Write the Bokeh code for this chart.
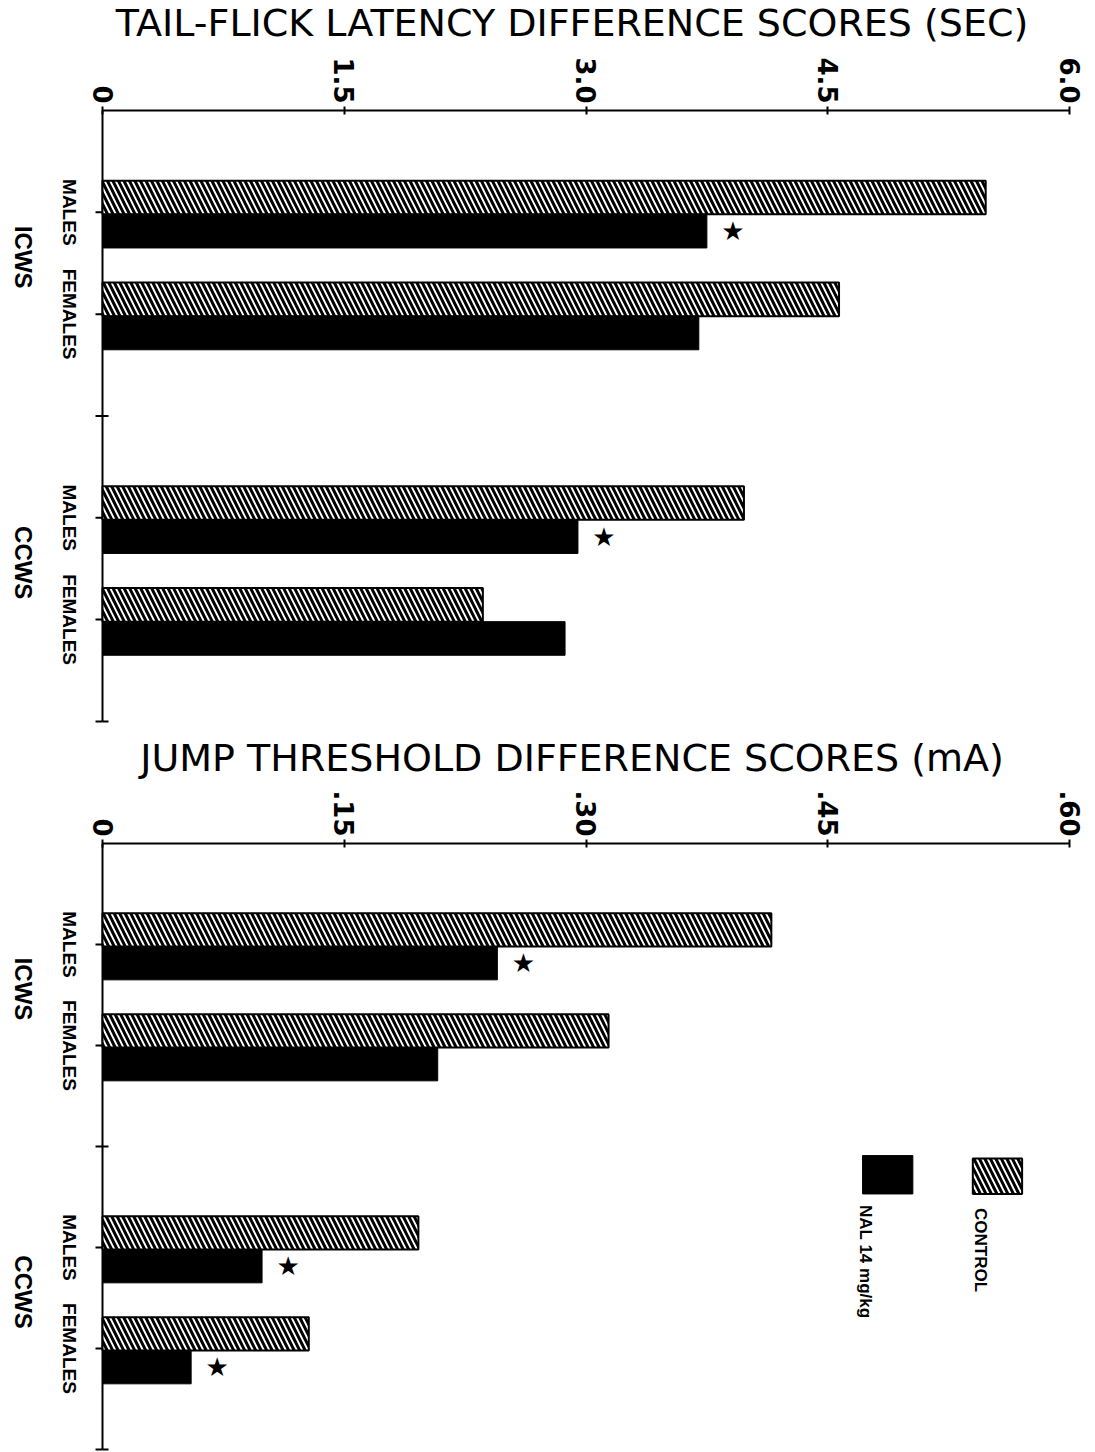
import math

from bokeh.core.properties import value
from bokeh.embed import file_html
from bokeh.layouts import column
from bokeh.models import ColumnDataSource, FixedTicker, Range1d
from bokeh.plotting import figure
from bokeh.resources import INLINE

# ---- data -------------------------------------------------------------
groups = ["ICWS", "ICWS", "CCWS", "CCWS"]
sexes = ["MALES", "FEMALES", "MALES", "FEMALES"]
group_names = ["ICWS", "CCWS"]

tail_flick_control = [5.48, 4.57, 3.98, 2.36]
tail_flick_nal = [3.75, 3.70, 2.95, 2.87]
tail_flick_sig = [True, False, True, False]
tail_flick_ticks = [0, 1.5, 3.0, 4.5, 6.0]
tail_flick_tick_labels = ["0", "1.5", "3.0", "4.5", "6.0"]

jump_control = [0.415, 0.314, 0.196, 0.128]
jump_nal = [0.245, 0.208, 0.099, 0.055]
jump_sig = [True, False, True, True]
jump_ticks = [0, 0.15, 0.30, 0.45, 0.60]
jump_tick_labels = ["0", ".15", ".30", ".45", ".60"]

legend_labels = ["CONTROL", "NAL 14 mg/kg"]

# ---- style --------------------------------------------------------------
TITLE_FONT = "DejaVu Sans"
TICK_FONT = "DejaVu Sans"
CAT_FONT = "Liberation Sans"
ROT = -math.pi / 2          # text reads top-to-bottom
BAR_H = 0.33
SLOTS_PER_GROUP = 3         # two bars + one empty slot between groups
WIDTH = 1095
AXIS_X = 102                # pixel column of the category axis
RIGHT_PAD = 26
SLOT_PAD = 0.03
HATCH = dict(fill_color="white", hatch_pattern="left_diagonal_line",
             hatch_color="black", hatch_scale=11, hatch_weight=3.0,
             line_color="black", line_width=2)


def header(text, height, mid):
    """A strip holding a panel heading, laid out in pixel coordinates."""
    h = figure(width=WIDTH, height=height,
               x_range=Range1d(0, WIDTH), y_range=Range1d(height, 0),
               x_axis_location=None, y_axis_location=None,
               output_backend="svg", toolbar_location=None,
               min_border=0, outline_line_color=None,
               background_fill_color="white")
    h.title = None
    h.grid.visible = False
    centre = AXIS_X + (WIDTH - AXIS_X - RIGHT_PAD) / 2
    h.text(x=[centre], y=[mid], text=[text],
           text_align="center", text_baseline="middle",
           text_font=value(TITLE_FONT), text_font_size="38px",
           text_color="black")
    return h


def slot_positions():
    """Category-axis position of each group/sex pair (1, 2, 4, 5)."""
    pos = []
    for g, s in zip(groups, sexes):
        gi = group_names.index(g)
        si = 0 if s == "MALES" else 1
        pos.append(gi * SLOTS_PER_GROUP + si + 1)
    return pos


def make_panel(control, nal, sig, ticks, tick_labels, slot_px,
               border_top, legend=False):
    pos = slot_positions()
    n_slots = len(group_names) * SLOTS_PER_GROUP
    height = border_top + round((n_slots + SLOT_PAD) * slot_px)

    # the frame starts at the page edge so the category labels, which sit
    # left of the value origin, are drawn inside it
    span = ticks[-1] - ticks[0]
    data_w = WIDTH - AXIS_X - RIGHT_PAD
    x_start = ticks[0] - AXIS_X / data_w * span

    p = figure(width=WIDTH, height=height,
               x_range=Range1d(x_start, ticks[-1]),
               y_range=Range1d(n_slots + SLOT_PAD, 0),
               x_axis_location="above", y_axis_location=None,
               output_backend="svg", toolbar_location=None,
               min_border_left=0, min_border_right=RIGHT_PAD,
               min_border_top=border_top, min_border_bottom=0,
               outline_line_color=None, background_fill_color="white")
    p.title = None
    p.grid.visible = False

    # value axis along the top
    xa = p.xaxis[0]
    xa.bounds = (ticks[0], ticks[-1])
    xa.ticker = FixedTicker(ticks=ticks, minor_ticks=[])
    xa.major_label_overrides = {t: lbl for t, lbl in zip(ticks, tick_labels)}
    xa.major_label_orientation = ROT
    xa.major_label_text_font = TICK_FONT
    xa.major_label_text_font_size = "26px"
    xa.major_label_text_font_style = "bold"
    xa.major_label_text_color = "black"
    xa.major_label_standoff = 3
    xa.axis_line_width = 2
    xa.axis_line_color = "black"
    xa.major_tick_line_width = 2
    xa.major_tick_line_color = "black"
    xa.major_tick_in = 4
    xa.major_tick_out = 4

    # category axis: line, outward ticks, inward ticks at group separators
    all_slots = list(range(1, n_slots + 1))
    sep_slots = [k for k in all_slots if k not in pos]
    p.segment(x0=[0], y0=[0], x1=[0], y1=[n_slots], line_color="black", line_width=2)
    p.ray(x=[0] * len(all_slots), y=all_slots, length=7, length_units="screen",
          angle=math.pi, line_color="black", line_width=2)
    p.ray(x=[0] * len(sep_slots), y=sep_slots, length=6, length_units="screen",
          angle=0, line_color="black", line_width=2)

    p.text(x=[0] * len(pos), y=pos, text=sexes, x_offset=-23, angle=ROT,
           text_align="center", text_baseline="top",
           text_font=value(CAT_FONT), text_font_size="19px",
           text_font_style="bold", text_color="black")

    group_pos = []
    for g in group_names:
        ks = [k for k, gg in zip(pos, groups) if gg == g]
        group_pos.append(sum(ks) / len(ks))
    p.text(x=[0] * len(group_pos), y=group_pos, text=group_names,
           x_offset=-66, y_offset=-6, angle=ROT,
           text_align="center", text_baseline="top",
           text_font=value(CAT_FONT), text_font_size="24px",
           text_font_style="bold", text_color="black")

    src = ColumnDataSource(dict(
        y_ctl=[k - 0.145 for k in pos],
        y_nal=[k + 0.185 for k in pos],
        control=control, nal=nal))

    p.hbar(y="y_ctl", left=0, right="control", height=BAR_H, source=src, **HATCH)
    p.hbar(y="y_nal", left=0, right="nal", height=BAR_H, source=src,
           fill_color="black", line_color="black", line_width=1)

    star_src = ColumnDataSource(dict(
        x=[v for v, s in zip(nal, sig) if s],
        y=[k + 0.185 for k, s in zip(pos, sig) if s]))
    p.text(x="x", y="y", text=value("★"), source=star_src, x_offset=26,
           text_align="center", text_baseline="middle",
           text_font=value("DejaVu Sans"), text_font_size="26px",
           text_color="black")

    if legend:
        # legend swatches (control on the right, NAL to its left)
        p.quad(left=[0.900 * span], right=[0.951 * span], top=[3.12], bottom=[3.47],
               **HATCH)
        p.quad(left=[0.786 * span], right=[0.838 * span], top=[3.09], bottom=[3.47],
               fill_color="black", line_color="black", line_width=1)
        p.text(x=[0.918 * span, 0.799 * span], y=[3.61, 3.58],
               text=legend_labels, angle=ROT,
               text_align="left", text_baseline="top",
               text_font=value(CAT_FONT), text_font_size="17px",
               text_font_style="bold", text_color="black")
    return p


# vertical layout (pixels): heading strip, then panel with the value axis
# on its top edge
H1, H2 = 50, 56
h1 = header("TAIL-FLICK LATENCY DIFFERENCE SCORES (SEC)", H1, mid=22)
p1 = make_panel(tail_flick_control, tail_flick_nal, tail_flick_sig,
                tail_flick_ticks, tail_flick_tick_labels,
                slot_px=101.8, border_top=110 - H1)
top2 = H1 + p1.height
h2 = header("JUMP THRESHOLD DIFFERENCE SCORES (mA)", H2, mid=757 - top2)
p2 = make_panel(jump_control, jump_nal, jump_sig,
                jump_ticks, jump_tick_labels,
                slot_px=101.0, border_top=843 - top2 - H2, legend=True)

layout = column(h1, p1, h2, p2, spacing=0)
open("out.html", "w").write(file_html(layout, INLINE))
